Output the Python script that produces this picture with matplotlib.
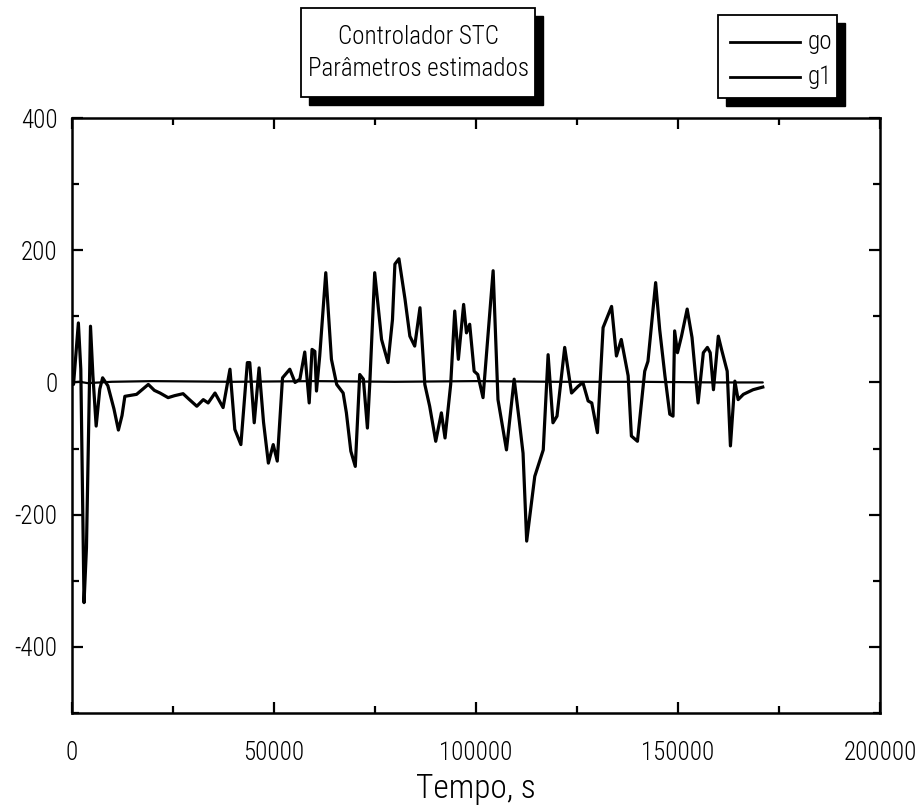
import matplotlib
matplotlib.use("Agg")
import matplotlib.pyplot as plt
from matplotlib.patches import Rectangle
from matplotlib.lines import Line2D
from matplotlib.ticker import MultipleLocator

plt.rcParams['font.family'] = ['Roboto Condensed', 'DejaVu Sans']
plt.rcParams['font.weight'] = 'light'
plt.rcParams['axes.labelweight'] = 'light'
plt.rcParams['axes.unicode_minus'] = False

# Estimated controller parameters over time
t_g0 = [0, 2000, 4000, 10000, 20000, 40000, 60000, 80000, 100000,
        120000, 140000, 160000, 171000]
g0 = [0, 1, -1, 1, 2, 1, 2, 1, 2, 1, 1, 0, 0]

t_g1 = [0, 500, 1700, 2300, 3100, 3700, 4700, 5300, 6100, 7000, 7700, 9000,
        10500, 11600, 12500, 13200, 16100, 19000, 20500, 21900, 23900, 25500,
        27600, 29000, 31000, 32600, 33800, 35500, 37500, 39200, 40400, 41900,
        43500, 44100, 45200, 46400, 47500, 48700, 49900, 50900, 52200, 54000,
        55300, 56500, 57700, 58800, 59500, 60200, 60600, 61400, 62900, 64300,
        65600, 67200, 68000, 69100, 70200, 71300, 72200, 73200, 73800, 75000,
        76700, 78300, 79400, 80000, 81000, 82500, 83700, 84900, 86200, 87400,
        88600, 90100, 91500, 92400, 93800, 94800, 95700, 97000, 97700, 98500,
        99600, 100500, 101800, 104300, 105500, 107600, 109500, 110800, 111700,
        112600, 114600, 116700, 117900, 119100, 120100, 122000, 123700, 125300,
        126500, 127800, 128700, 130100, 131500, 133600, 134800, 136000, 137700,
        138500, 140000, 141800, 142600, 144500, 145500, 146800, 148000, 148800,
        149200, 149900, 150900, 152300, 153500, 155000, 156300, 157300, 158000,
        158800, 160000, 160800, 162200, 163000, 164100, 164900, 166200, 168600,
        171000]
g1 = [0, -3, 90, 20, -333, -250, 85, 10, -66, -10, 7, -5,
      -40, -72, -50, -21, -18, -3, -12, -16, -23, -20,
      -17, -25, -36, -26, -31, -16, -38, 20, -71, -94,
      30, 30, -61, 22, -60, -122, -94, -119, 7, 20,
      0, 5, 46, -31, 50, 47, -13, 40, 166, 35,
      -3, -16, -46, -104, -127, 12, 5, -69, 0, 166,
      65, 30, 95, 179, 187, 126, 70, 55, 113, -3,
      -36, -89, -46, -84, -3, 108, 35, 118, 75, 88,
      17, 12, -23, 169, -26, -102, 5, -60, -107,
      -240, -142, -102, 42, -61, -51, 53, -16, -6,
      0, -28, -31, -76, 83, 115, 40, 65, 10,
      -81, -89, 17, 32, 151, 80, 10, -48, -51,
      78, 45, 70, 111, 68, -31, 45, 53, 45,
      -11, 70, 50, 17, -96, 2, -26, -18, -11,
      -7]

title_lines = ["Controlador STC", "Parâmetros estimados"]
series_names = ["go", "g1"]
x_label = "Tempo, s"

W, H = 917, 806
fig = plt.figure(figsize=(W / 100, H / 100), dpi=100)
ax = fig.add_axes([71.5 / W, 1 - 713 / H, (880 - 71.5) / W, (713 - 118) / H])

ax.plot(t_g0, g0, color='black', lw=1.6, solid_capstyle='round')
ax.plot(t_g1, g1, color='black', lw=2.3, solid_joinstyle='round')

ax.set_xlim(0, 200000)
ax.set_ylim(-500, 400)
ax.xaxis.set_major_locator(MultipleLocator(50000))
ax.xaxis.set_minor_locator(MultipleLocator(25000))
ax.yaxis.set_major_locator(MultipleLocator(200))
ax.yaxis.set_minor_locator(MultipleLocator(100))
ax.tick_params(which='both', direction='in', top=True, right=True,
               width=1.6, colors='black')
ax.tick_params(which='major', length=8, labelsize=18)
ax.tick_params(axis='x', which='major', pad=20)
ax.tick_params(axis='y', which='major', pad=10)
ax.tick_params(which='minor', length=5)
for s in ax.spines.values():
    s.set_linewidth(1.8)
ax.set_xlabel(x_label, fontsize=24, labelpad=6, fontweight='light')


def px_box(x0, y0, x1, y1, shadow=8):
    """Framed white box with a solid drop shadow, in pixel coordinates."""
    fig.patches.append(Rectangle(((x0 + shadow) / W, 1 - (y1 + shadow) / H),
                                 (x1 - x0) / W, (y1 - y0) / H,
                                 transform=fig.transFigure, facecolor='black',
                                 edgecolor='black', zorder=5))
    fig.patches.append(Rectangle((x0 / W, 1 - y1 / H),
                                 (x1 - x0) / W, (y1 - y0) / H,
                                 transform=fig.transFigure, facecolor='white',
                                 edgecolor='black', lw=1.3, zorder=6))


# Title box
px_box(301, 8, 535, 97)
fig.text(418 / W, 1 - 37 / H, title_lines[0], ha='center', va='center',
         fontsize=18, zorder=7)
fig.text(418 / W, 1 - 69 / H, title_lines[1], ha='center', va='center',
         fontsize=18, zorder=7)

# Legend box
px_box(718, 15, 837, 98)
for i, name in enumerate(series_names):
    yy = 1 - (42 + 35 * i) / H
    fig.lines.append(Line2D([730 / W, 800 / W], [yy, yy],
                            transform=fig.transFigure, color='black',
                            lw=2.0, zorder=7))
    fig.text(808 / W, yy, name, ha='left', va='center', fontsize=18, zorder=7)

fig.savefig("out.png", dpi=100, facecolor='white')
